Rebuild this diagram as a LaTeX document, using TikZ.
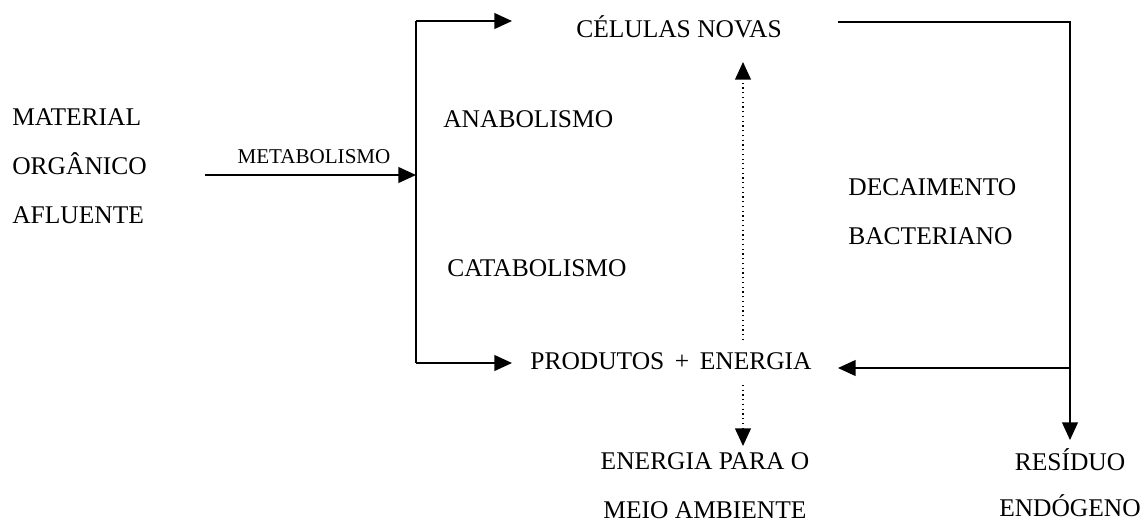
\documentclass[tikz,border=0pt]{standalone}
\usepackage{fontspec}
\setmainfont{Liberation Serif}
\usetikzlibrary{arrows.meta, positioning}

\begin{document}
\begin{tikzpicture}[x=0.02cm, y=-0.02cm, >={Triangle[length=10pt, width=9pt]}]
	\tikzstyle{txt} = [inner sep=0pt, font=\fontsize{14.5}{28}\selectfont, align=center]
	\tikzstyle{small} = [inner sep=0pt, font=\fontsize{12}{14}\selectfont]
	\tikzstyle{arrow} = [line width=0.8pt, ->]
	\tikzstyle{dots} = [line width=0.7pt, dotted, ->]

	\useasboundingbox (0,0) rectangle (1144,522);

	\node[txt, anchor=west, align=left] at (12, 166)	(mat)	{MATERIAL\\ORGÂNICO\\AFLUENTE};
	\node[small]	at (314, 157)	(meta)	{METABOLISMO};
	\node[txt]	at (679, 27)	(cel)	{CÉLULAS NOVAS};
	\node[txt, anchor=west]	at (443, 119)	(ana)	{ANABOLISMO};
	\node[txt, anchor=west]	at (447, 268)	(cat)	{CATABOLISMO};
	\node[txt]	at (671, 361)	(prod)	{PRODUTOS\hspace{6pt}+\hspace{6pt}ENERGIA};
	\node[txt, anchor=west, align=left] at (848, 212)	(dec)	{DECAIMENTO\\BACTERIANO};
	\node[txt]	at (705, 486)	(ene)	{ENERGIA PARA O\\MEIO AMBIENTE};
	\node[txt, font=\fontsize{14.5}{26}\selectfont]	at (1070, 483)	(res)	{RESÍDUO\\ENDÓGENO};

	\coordinate (m0) at (205, 175);
	\coordinate (m1) at (416, 175);
	\coordinate (a0) at (416, 21);
	\coordinate (a1) at (512, 21);
	\coordinate (b0) at (416, 363);
	\coordinate (b1) at (512, 363);
	\coordinate (r0) at (838, 22);
	\coordinate (r1) at (1070, 22);
	\coordinate (r2) at (1070, 368);
	\coordinate (r3) at (1070, 440);
	\coordinate (p1) at (838, 368);
	\coordinate (u0) at (743, 340);
	\coordinate (u1) at (743, 62);
	\coordinate (d0) at (743, 385);
	\coordinate (d1) at (743, 446);

	% metabolismo
	\draw[arrow] (m0) -- (m1);
	\draw[line width=0.8pt] (a0) -- (b0);
	\draw[arrow] (a0) -- (a1);
	\draw[arrow] (b0) -- (b1);

	% decaimento
	\draw[arrow] (r0) -- (r1) -- (r3);
	\draw[arrow] (r2) -- (p1);

	% energia
	\draw[dots] (u0) -- (u1);
	\draw[dots] (d0) -- (d1);
\end{tikzpicture}
\end{document}
